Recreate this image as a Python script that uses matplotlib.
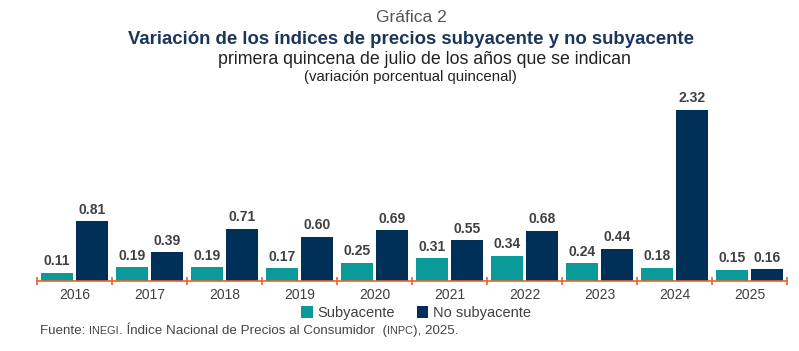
import matplotlib
matplotlib.use("Agg")
import matplotlib.pyplot as plt
import numpy as np

years = ["2016", "2017", "2018", "2019", "2020", "2021", "2022", "2023", "2024", "2025"]
subyacente = [0.11, 0.19, 0.19, 0.17, 0.25, 0.31, 0.34, 0.24, 0.18, 0.15]
no_subyacente = [0.81, 0.39, 0.71, 0.60, 0.69, 0.55, 0.68, 0.44, 2.32, 0.16]
series_names = ["Subyacente", "No subyacente"]

plt.rcParams['font.family'] = ['Liberation Sans', 'DejaVu Sans']

TEAL = "#0A9A9A"
NAVY = "#003057"
ORANGE = "#E8652A"
GRAY = "#404040"

W, H = 799, 351
fig = plt.figure(figsize=(W/100, H/100), dpi=100)
ax = fig.add_axes([37/W, 70/H, 750/W, (281-89)/H])

x = np.arange(len(years))
bw = 0.43
off = 0.235
b1 = ax.bar(x - off, subyacente, bw, color=TEAL, label=series_names[0])
b2 = ax.bar(x + off, no_subyacente, bw, color=NAVY, label=series_names[1])
for bars, vals in ((b1, subyacente), (b2, no_subyacente)):
    for r, v in zip(bars, vals):
        ax.text(r.get_x() + r.get_width()/2, v + 0.06, f"{v:.2f}", ha="center", va="bottom",
                fontsize=10, fontweight="bold", color=GRAY)

ax.set_xlim(-0.5, len(years) - 0.5)
ax.set_ylim(0, 2.6)
for s in ["top", "right", "left"]:
    ax.spines[s].set_visible(False)
ax.spines["bottom"].set_color(ORANGE)
ax.spines["bottom"].set_linewidth(1.2)
ax.set_yticks([])
ax.set_xticks(np.arange(len(years) + 1) - 0.5)
ax.set_xticklabels([])
ax.tick_params(axis="x", which="major", direction="inout", length=6, color=ORANGE, width=1.2)
for i, y in enumerate(years):
    ax.text(i, -0.1, y, ha="center", va="top", fontsize=10, color=GRAY)

fig.text(0.5 + 12/W, 1 - 18/H, "Gráfica 2", ha="center", va="center", fontsize=12.5, color="#555555")
fig.text(0.5 + 12/W, 1 - 39/H, "Variación de los índices de precios subyacente y no subyacente",
         ha="center", va="center", fontsize=13.4, fontweight="bold", color="#1B365D")
fig.text(0.5 + 25/W, 1 - 60/H, "primera quincena de julio de los años que se indican",
         ha="center", va="center", fontsize=12.8, color="#222222")
fig.text(0.5 + 11/W, 1 - 77/H, "(variación porcentual quincenal)",
         ha="center", va="center", fontsize=10.8, color="#222222")

leg = fig.legend(handles=[b1, b2], labels=series_names, loc="center", bbox_to_anchor=(416/W, 1 - 313/H),
                 ncol=2, frameon=False, fontsize=10.5, handlelength=0.8, handleheight=0.8,
                 handletextpad=0.3, columnspacing=1.5, labelcolor=GRAY)

# Source line with small caps pieces
renderer = fig.canvas.get_renderer()
pieces = [("Fuente: ", 9.6), ("INEGI", 7.8), (". Índice Nacional de Precios al Consumidor  (", 9.6), ("INPC", 7.8), ("), 2025.", 9.6)]
xpos = 40
ypos = 1 - 334/H
for txt, fs in pieces:
    t = fig.text(xpos/W, ypos, txt, ha="left", va="baseline", fontsize=fs, color="#444444")
    bb = t.get_window_extent(renderer=renderer)
    xpos += bb.width

fig.savefig("out.png", dpi=100)
